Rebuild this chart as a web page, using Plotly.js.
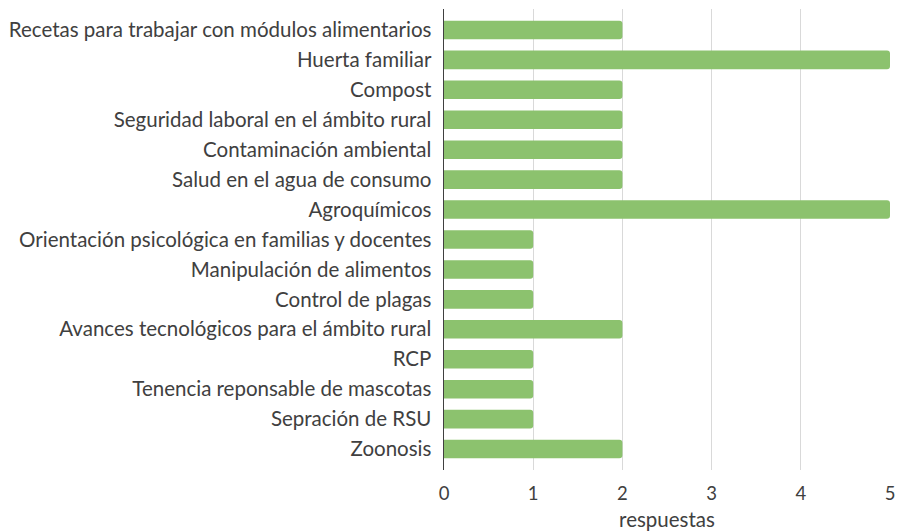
<!DOCTYPE html>
<html>
<head>
<meta charset="utf-8">
<script src="https://cdn.plot.ly/plotly-3.0.1.min.js"></script>
<style>html,body{margin:0;padding:0;background:#fff;}#chart{width:906px;height:532px;}</style>
</head>
<body>
<div id="chart"></div>
<script>
const categories = [
  "Recetas para trabajar con módulos alimentarios",
  "Huerta familiar",
  "Compost",
  "Seguridad laboral en el ámbito rural",
  "Contaminación ambiental",
  "Salud en el agua de consumo",
  "Agroquímicos",
  "Orientación psicológica en familias y docentes",
  "Manipulación de alimentos",
  "Control de plagas",
  "Avances tecnológicos para el ámbito rural",
  "RCP",
  "Tenencia reponsable de mascotas",
  "Sepración de RSU",
  "Zoonosis"
];
const respuestas = [2, 5, 2, 2, 2, 2, 5, 1, 1, 1, 2, 1, 1, 1, 2];
const xTicks = [0, 1, 2, 3, 4, 5];
const xTitle = "respuestas";

const font = "Lato, sans-serif";
const trace = {
  type: "bar",
  orientation: "h",
  y: categories,
  x: respuestas,
  marker: {color: "#8cc26e", line: {width: 0}},
  hoverinfo: "x+y"
};
const layout = {
  width: 906, height: 532,
  margin: {l: 444, r: 16, t: 9, b: 62},
  paper_bgcolor: "#fff", plot_bgcolor: "#fff",
  bargap: 0.38,
  barcornerradius: 3,
  showlegend: false,
  font: {family: font, color: "#404040", size: 18},
  xaxis: {
    range: [0, 5],
    tickvals: xTicks,
    ticktext: xTicks.map(String),
    showgrid: true, gridcolor: "#d9d9d9", gridwidth: 1,
    zeroline: false, showline: false, ticks: "",
    ticklabelstandoff: 10,
    tickfont: {size: 18.5, color: "#404040"},
    title: {text: xTitle, font: {size: 20.5, color: "#404040"}, standoff: 10}
  },
  yaxis: {
    type: "category",
    autorange: false,
    range: [14.7, -0.7],
    showgrid: false, zeroline: false,
    showline: true, linecolor: "#404040", linewidth: 1.5,
    ticks: "",
    ticklabelstandoff: 7,
    tickfont: {size: 20.5, color: "#404040"}
  }
};
Plotly.newPlot("chart", [trace], layout, {displayModeBar: false, staticPlot: true});
</script>
</body>
</html>
